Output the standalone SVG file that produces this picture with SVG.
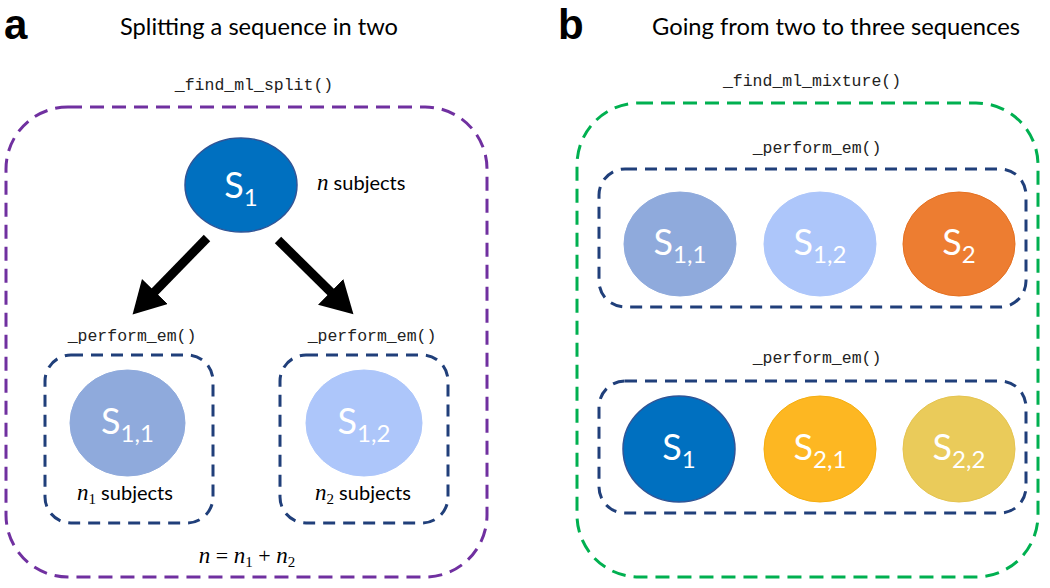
<svg xmlns="http://www.w3.org/2000/svg" width="1050" height="588" viewBox="0 0 1050 588">
<style>
.panel{font-family:"Liberation Sans",Arial,sans-serif;font-weight:bold;font-size:42px;fill:#000}
.title{font-family:"Lato","Open Sans","Liberation Sans",sans-serif;font-size:23px;fill:#000}
.code{font-family:"Liberation Mono","Courier New",monospace;font-size:16.5px;fill:#222}
.lbl{font-family:"Lato","Open Sans","Liberation Sans",sans-serif;font-size:20px;fill:#000}
.m{font-family:"Liberation Serif","Times New Roman",serif;font-style:italic;font-size:23px}
.mr{font-family:"Liberation Serif","Times New Roman",serif;font-size:22px}
.sub{font-family:"Liberation Serif","Times New Roman",serif;font-size:15px}
.s{font-family:"Lato","Open Sans","Liberation Sans",sans-serif;font-size:36px;fill:#fff}
.ss{font-size:24px}
.outerP{fill:none;stroke:#7030A0;stroke-width:3;stroke-dasharray:14 8}
.outerG{fill:none;stroke:#00B050;stroke-width:3;stroke-dasharray:14 8}
.inner{fill:none;stroke:#203F7A;stroke-width:3;stroke-dasharray:12 8}
.arrow{stroke:#000;stroke-width:9;fill:none}
</style>
<defs>
<marker id="ah" markerUnits="userSpaceOnUse" markerWidth="34" markerHeight="36" viewBox="0 0 34 36" refX="4" refY="18" orient="auto">
<path d="M0,0 L32,18 L0,36 z" fill="#000"/>
</marker>
</defs>

<text class="panel" x="4" y="39">a</text>
<text class="title" x="259" y="35" text-anchor="middle" textLength="278" lengthAdjust="spacingAndGlyphs">Splitting a sequence in two</text>
<text class="panel" x="558" y="39">b</text>
<text class="title" x="836" y="35" text-anchor="middle" textLength="368" lengthAdjust="spacingAndGlyphs">Going from two to three sequences</text>

<g id="find_ml_split">
<text class="code" x="254" y="90" text-anchor="middle">_find_ml_split()</text>
<rect class="outerP" x="6" y="107" width="481" height="470" rx="62" ry="62"/>
<text x="247" y="563" text-anchor="middle"><tspan class="m">n</tspan><tspan class="mr"> = </tspan><tspan class="m">n</tspan><tspan class="sub" dy="4">1</tspan><tspan class="mr" dy="-4"> + </tspan><tspan class="m">n</tspan><tspan class="sub" dy="4">2</tspan></text>
</g>

<g id="nodeS1">
<ellipse cx="241" cy="185" rx="56" ry="47" fill="#0070C0" stroke="#2F5597" stroke-width="1.5"/>
<text class="s" x="241" y="198" text-anchor="middle">S<tspan class="ss" dy="8">1</tspan></text>
<text x="317" y="190"><tspan class="m">n</tspan><tspan class="lbl"> subjects</tspan></text>
</g>

<g id="connectors">
<line class="arrow" x1="207" y1="238" x2="152.1" y2="294.4" marker-end="url(#ah)"/>
<line class="arrow" x1="278" y1="240" x2="333.5" y2="294.7" marker-end="url(#ah)"/>
</g>

<g id="em_left">
<text class="code" x="132" y="341" text-anchor="middle">_perform_em()</text>
<rect class="inner" x="45" y="355" width="168" height="168" rx="26" ry="26"/>
<ellipse cx="127.5" cy="423" rx="57.5" ry="53" fill="#8FAADC" stroke="#8FAADC"/>
<text class="s" x="127.5" y="434" text-anchor="middle">S<tspan class="ss" dy="8">1,1</tspan></text>
<text x="77" y="500"><tspan class="m">n</tspan><tspan class="sub" dy="4">1</tspan><tspan class="lbl" dy="-4"> subjects</tspan></text>
</g>

<g id="em_right">
<text class="code" x="372" y="341" text-anchor="middle">_perform_em()</text>
<rect class="inner" x="280" y="355" width="168" height="168" rx="26" ry="26"/>
<ellipse cx="364" cy="423" rx="58" ry="53" fill="#ADC6FA" stroke="#ADC6FA"/>
<text class="s" x="364" y="434" text-anchor="middle">S<tspan class="ss" dy="8">1,2</tspan></text>
<text x="315" y="500"><tspan class="m">n</tspan><tspan class="sub" dy="4">2</tspan><tspan class="lbl" dy="-4"> subjects</tspan></text>
</g>

<g id="find_ml_mixture">
<text class="code" x="812" y="86" text-anchor="middle">_find_ml_mixture()</text>
<rect class="outerG" x="577" y="103" width="461" height="474" rx="62" ry="62"/>
</g>

<g id="em_top">
<text class="code" x="817" y="153" text-anchor="middle">_perform_em()</text>
<rect class="inner" x="599" y="169" width="427" height="138" rx="26" ry="26"/>
</g>
<g id="nodeS11b">
<ellipse cx="680" cy="244" rx="56" ry="52" fill="#8FAADC" stroke="#8FAADC"/>
<text class="s" x="680" y="255" text-anchor="middle">S<tspan class="ss" dy="8">1,1</tspan></text>
</g>
<g id="nodeS12b">
<ellipse cx="820" cy="244" rx="56" ry="52" fill="#ADC6FA" stroke="#ADC6FA"/>
<text class="s" x="820" y="255" text-anchor="middle">S<tspan class="ss" dy="8">1,2</tspan></text>
</g>
<g id="nodeS2">
<ellipse cx="959" cy="244" rx="56" ry="52" fill="#ED7D31" stroke="#E57020"/>
<text class="s" x="959" y="255" text-anchor="middle">S<tspan class="ss" dy="8">2</tspan></text>
</g>

<g id="em_bottom">
<text class="code" x="817" y="363" text-anchor="middle">_perform_em()</text>
<rect class="inner" x="599" y="381" width="427" height="132" rx="26" ry="26"/>
</g>
<g id="nodeS1b">
<ellipse cx="679" cy="449" rx="56" ry="53" fill="#0070C0" stroke="#2F5597" stroke-width="1.5"/>
<text class="s" x="679" y="460" text-anchor="middle">S<tspan class="ss" dy="8">1</tspan></text>
</g>
<g id="nodeS21">
<ellipse cx="820" cy="449" rx="56" ry="53" fill="#FDB722" stroke="#F5AE10"/>
<text class="s" x="820" y="460" text-anchor="middle">S<tspan class="ss" dy="8">2,1</tspan></text>
</g>
<g id="nodeS22">
<ellipse cx="959" cy="449" rx="56" ry="53" fill="#EACB5A" stroke="#E5C450"/>
<text class="s" x="959" y="460" text-anchor="middle">S<tspan class="ss" dy="8">2,2</tspan></text>
</g>
</svg>
